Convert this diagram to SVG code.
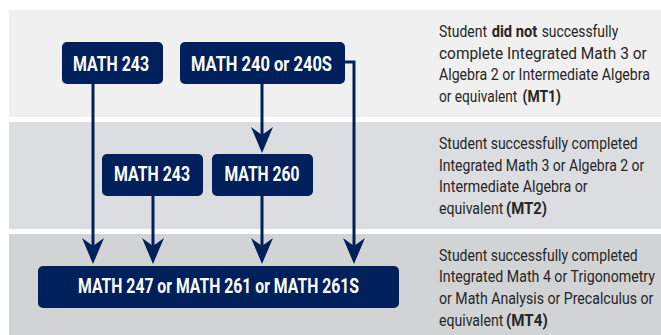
<svg xmlns="http://www.w3.org/2000/svg" width="661" height="335" viewBox="0 0 661 335">
<style>
.box{fill:#00205b}
.bl{font-family:Roboto,"Liberation Sans",sans-serif;font-weight:bold;font-size:19.5px;fill:#ffffff;text-anchor:middle}
.desc text{font-family:Roboto,"Liberation Sans",sans-serif;font-size:16.5px;fill:#262626}
.desc .b{font-weight:bold}
.conn{fill:none;stroke:#00205b;stroke-width:3}
</style>
<defs>
<marker id="arr" markerUnits="userSpaceOnUse" orient="auto" refX="0" refY="0" markerWidth="30" markerHeight="30" overflow="visible">
<path d="M15,0 L-11,-11 L-3,0 L-11,11 Z" fill="#00205b"/>
</marker>
</defs>
<rect width="661" height="335" fill="#ffffff"/>
<g id="bands">
<rect x="9" y="10" width="652" height="107" fill="#f0f0f0"/>
<rect x="9" y="122" width="652" height="107" fill="#dcdde0"/>
<rect x="9" y="234" width="652" height="101" fill="#d2d3d5"/>
</g>
<g id="connectors">
<path class="conn" d="M93,84 V249" marker-end="url(#arr)"/>
<path class="conn" d="M262,84 V138" marker-end="url(#arr)"/>
<path class="conn" d="M345,62 H354 V249" marker-end="url(#arr)"/>
<path class="conn" d="M153,196 V249" marker-end="url(#arr)"/>
<path class="conn" d="M262,196 V249" marker-end="url(#arr)"/>
</g>
<g id="n1">
<rect class="box" x="62" y="42" width="101" height="42" rx="5"/>
<text class="bl" x="111" y="71" textLength="76" lengthAdjust="spacingAndGlyphs">MATH 243</text>
</g>
<g id="n2">
<rect class="box" x="180" y="42" width="165" height="42" rx="5"/>
<text class="bl" x="261.5" y="71" textLength="141" lengthAdjust="spacingAndGlyphs">MATH 240 or 240S</text>
</g>
<g id="n3">
<rect class="box" x="102" y="154" width="101" height="42" rx="5"/>
<text class="bl" x="152" y="181" textLength="76" lengthAdjust="spacingAndGlyphs">MATH 243</text>
</g>
<g id="n4">
<rect class="box" x="212" y="154" width="101" height="42" rx="5"/>
<text class="bl" x="262" y="181" textLength="75" lengthAdjust="spacingAndGlyphs">MATH 260</text>
</g>
<g id="n5">
<rect class="box" x="38" y="266" width="361" height="42" rx="5"/>
<text class="bl" x="218.5" y="293" textLength="281" lengthAdjust="spacingAndGlyphs">MATH 247 or MATH 261 or MATH 261S</text>
</g>
<g id="d1" class="desc">
<text y="37"><tspan x="439" textLength="48" lengthAdjust="spacingAndGlyphs">Student</tspan><tspan class="b" x="491.7" textLength="45.6" lengthAdjust="spacingAndGlyphs">did not</tspan><tspan x="541.7" textLength="76.6" lengthAdjust="spacingAndGlyphs">successfully</tspan></text>
<text x="439" y="58.7" textLength="207.7" lengthAdjust="spacingAndGlyphs">complete Integrated Math 3 or</text>
<text x="439" y="80.3" textLength="211" lengthAdjust="spacingAndGlyphs">Algebra 2 or Intermediate Algebra</text>
<text y="102"><tspan x="439" textLength="78.3" lengthAdjust="spacingAndGlyphs">or equivalent</tspan><tspan class="b" x="522.5" textLength="38.5" lengthAdjust="spacingAndGlyphs">(MT1)</tspan></text>
</g>
<g id="d2" class="desc">
<text x="439" y="149" textLength="198.7" lengthAdjust="spacingAndGlyphs">Student successfully completed</text>
<text x="439" y="170.7" textLength="205.3" lengthAdjust="spacingAndGlyphs">Integrated Math 3 or Algebra 2 or</text>
<text x="439" y="192.3" textLength="148.7" lengthAdjust="spacingAndGlyphs">Intermediate Algebra or</text>
<text y="214"><tspan x="439" textLength="64.3" lengthAdjust="spacingAndGlyphs">equivalent</tspan><tspan class="b" x="506" textLength="41" lengthAdjust="spacingAndGlyphs">(MT2)</tspan></text>
</g>
<g id="d3" class="desc">
<text x="439" y="260.7" textLength="198.7" lengthAdjust="spacingAndGlyphs">Student successfully completed</text>
<text x="439" y="282.3" textLength="216" lengthAdjust="spacingAndGlyphs">Integrated Math 4 or Trigonometry</text>
<text x="439" y="304" textLength="214.3" lengthAdjust="spacingAndGlyphs">or Math Analysis or Precalculus or</text>
<text y="325.7"><tspan x="439" textLength="64.3" lengthAdjust="spacingAndGlyphs">equivalent</tspan><tspan class="b" x="506" textLength="41.7" lengthAdjust="spacingAndGlyphs">(MT4)</tspan></text>
</g>
</svg>
